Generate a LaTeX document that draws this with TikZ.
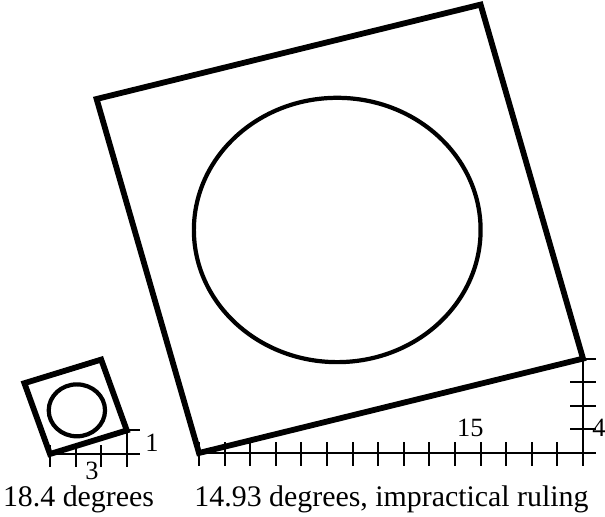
\documentclass[tikz,border=0pt]{standalone}
\usepackage{fontspec}
\setmainfont{Liberation Serif}
\begin{document}
\begin{tikzpicture}[
  frame/.style={line width=3.3pt},
  disc/.style={line width=2.4pt},
  ruler/.style={line width=1.2pt},
  caption/.style={font=\fontsize{17}{20}\selectfont, anchor=base, inner sep=0pt},
  marklabel/.style={font=\fontsize{15}{18}\selectfont, anchor=base, inner sep=0pt}]
  \useasboundingbox (0,0) rectangle (12.1,10.34);
  \begin{scope}[shift={(1.0,1.26)}, x=0.512cm, y=0.472cm]
    \coordinate (sa) at (0,0);
    \coordinate (sb) at (3,1);
    \coordinate (sc) at (2,4);
    \coordinate (sd) at (-1,3);
    \draw[ruler] (0,0) -- (3.5,0);
    \foreach \i in {0,...,3} \draw[ruler] (\i,-0.55) -- (\i,0.4);
    \draw[ruler] (3,-0.55) -- (3,1) -- (3.5,1);
    \draw[frame] (sa) -- (sb) -- (sc) -- (sd) -- cycle;
    \draw[disc] (1.05,1.85) circle[radius=1.1];
    \node[marklabel] (smallone) at (3.98,0.1) {1};
    \node[marklabel] (smallthree) at (1.64,-1.08) {3};
  \end{scope}
  \begin{scope}[shift={(3.98,1.28)}, x=0.512cm, y=0.472cm]
    \coordinate (ba) at (0,0);
    \coordinate (bb) at (15,4);
    \coordinate (bc) at (11,19);
    \coordinate (bd) at (-4,15);
    \draw[ruler] (0,0) -- (15.5,0);
    \foreach \i in {0,...,15} \draw[ruler] (\i,-0.55) -- (\i,0.45);
    \draw[ruler] (15,-0.55) -- (15,4) -- (15.5,4);
    \foreach \j in {1,2,3} \draw[ruler] (14.5,\j) -- (15.5,\j);
    \draw[frame] (ba) -- (bb) -- (bc) -- (bd) -- cycle;
    \draw[disc] (5.4,9.45) circle[radius=5.6];
    \node[marklabel] (bigfifteen) at (10.6,0.69) {15};
    \node[marklabel, anchor=base west] (bigfour) at (15.35,0.69) {4};
  \end{scope}
  \node[caption] (smalldeg) at (1.57,0.21) {18.4 degrees};
  \node[caption] (bigdeg) at (7.83,0.21) {14.93 degrees, impractical ruling};
\end{tikzpicture}
\end{document}
